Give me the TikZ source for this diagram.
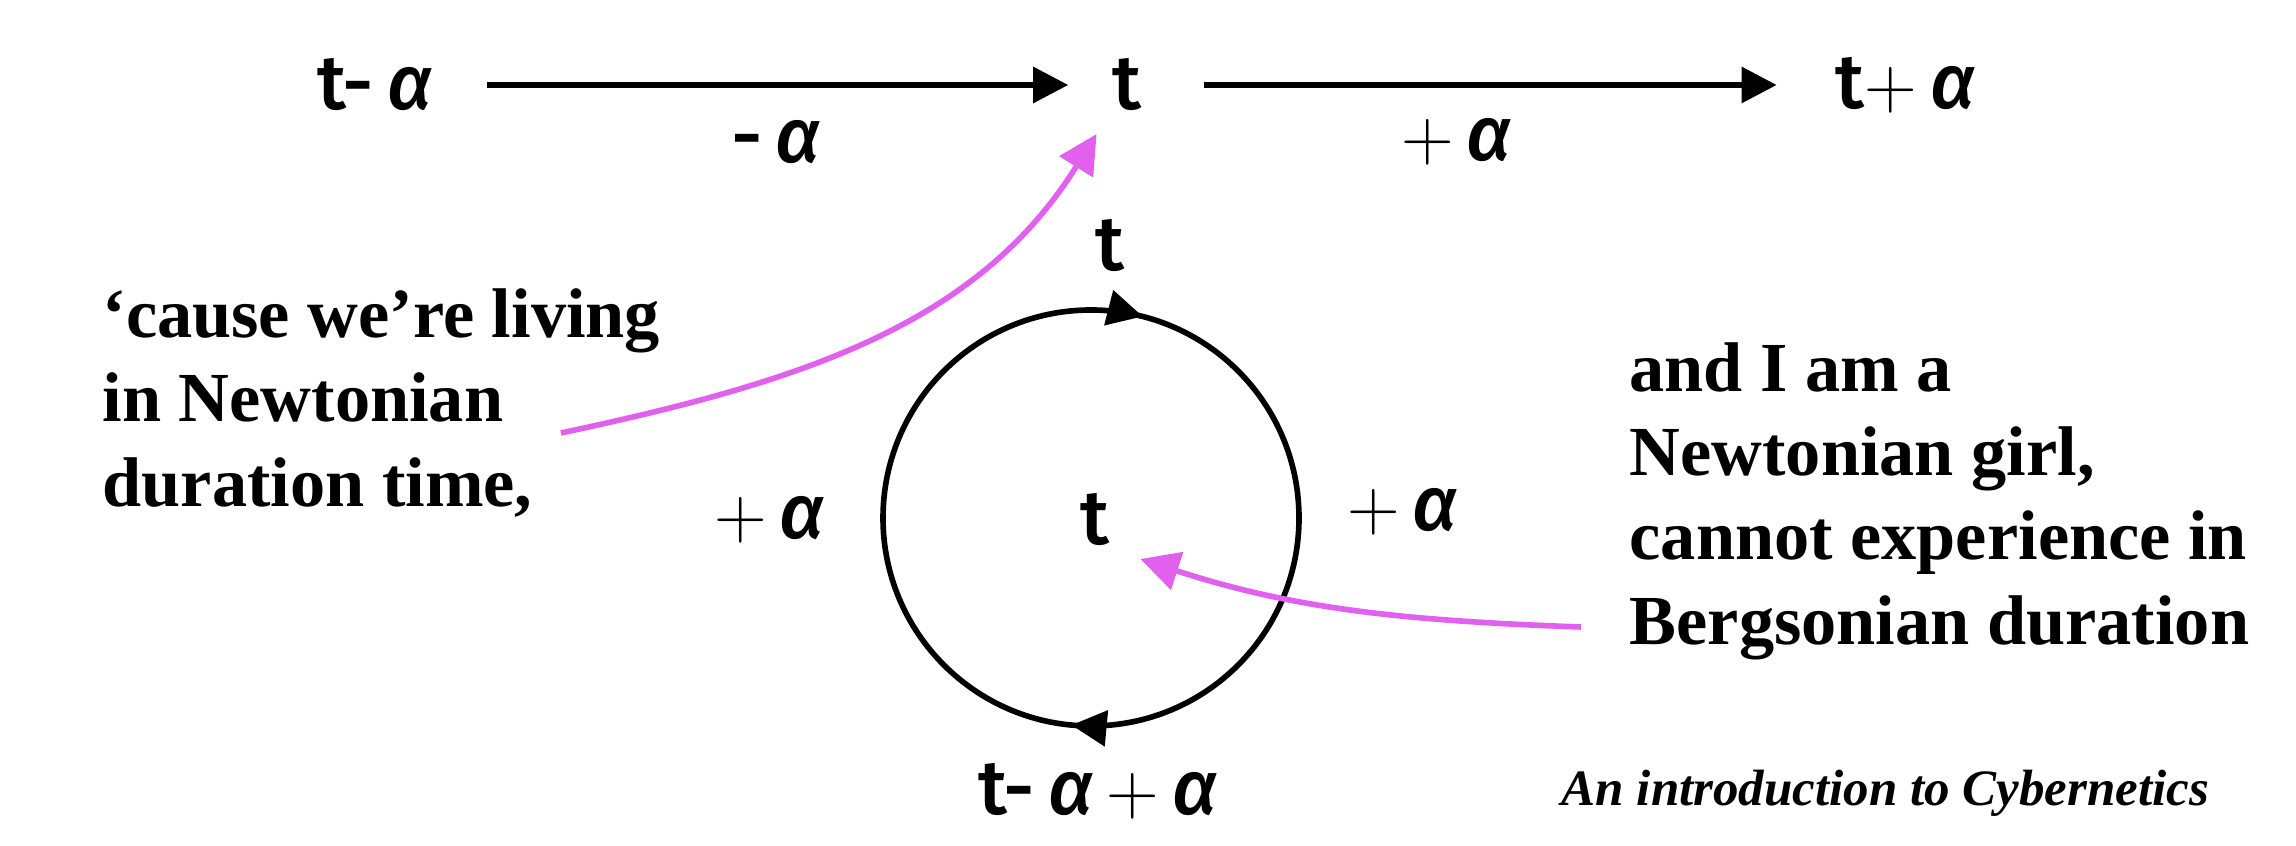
\documentclass[tikz,border=0pt]{standalone}
\usepackage{fontspec}
\setmainfont{Liberation Serif}
\newfontfamily\labelfont{Fira Sans}[UprightFont=* Medium, ItalicFont=* Medium Italic]
\newcommand{\pl}{\ensuremath{+}}
\usetikzlibrary{arrows.meta,decorations.markings,positioning}
\definecolor{pinkarrow}{RGB}{226,96,238}

\begin{document}
\begin{tikzpicture}[x=0.01cm,y=0.01cm,
  timelabel/.style={font=\labelfont\fontsize{22}{26}\selectfont, inner sep=1pt},
  lyric/.style={font=\bfseries\fontsize{20}{24}\selectfont, align=left, inner sep=0pt},
  timearrow/.style={line width=1.7pt, -{Triangle[length=10pt,width=10pt]}},
  pointer/.style={draw=pinkarrow, line width=1.6pt, -{Triangle[length=11pt,width=11pt]}}]
\useasboundingbox (0,0) rectangle (2296,846);
\node[timelabel] (tma) at (375,761) {t-\,\textit{α}};
\node[timelabel] (tmid) at (1127,761) {t};
\node[timelabel] (tpa) at (1906,761) {t\pl\,\textit{α}};
\node[timelabel] (lminus) at (776,704) {-\,\textit{α}};
\node[timelabel] (lplus) at (1457,704) {\pl\,\textit{α}};
\draw[timearrow, shorten <=0.5cm, shorten >=0.4cm] (tma) -- (tmid);
\draw[timearrow, shorten <=0.58cm, shorten >=0.55cm] (tmid) -- (tpa);
\coordinate (hub) at (1091,328);
\draw[line width=1.6pt, decoration={markings,
    mark=at position 0.04 with {\arrow{Triangle[length=10pt,width=10pt]}},
    mark=at position 0.515 with {\arrow{Triangle[length=10pt,width=10pt]}}}, postaction=decorate]
  (hub) ++(0,208) arc[start angle=90, end angle=-270, radius=208];
\node[timelabel] (ttop) at (1110,600) {t};
\node[timelabel] (tc) at (1095,326) {t};
\node[timelabel] (lleft) at (770,326) {\pl\,\textit{α}};
\node[timelabel] (lright) at (1403,334) {\pl\,\textit{α}};
\node[timelabel] (tbot) at (1098,55) {t-\,\textit{α}\,\pl\,\textit{α}};
\node[lyric, anchor=west] (cause) at (102,443) {‘cause we’re living\\in Newtonian\\duration time,};
\node[lyric, anchor=west] (girl) at (1629,345) {and I am a\\Newtonian girl,\\cannot experience in\\Bergsonian duration};
\node[anchor=west, inner sep=0pt, font=\bfseries\itshape\fontsize{14.5}{17}\selectfont] (book) at (1561,53) {An introduction to Cybernetics};
\coordinate (s1) at (561,413);
\coordinate (s2) at (1581,219);
\draw[pointer, shorten >=0.22cm] (s1) to[out=12, in=238] (tmid.south west);
\draw[pointer, shorten >=0.28cm] (s2) to[out=178, in=-18] (tc.south east);
\end{tikzpicture}
\end{document}
